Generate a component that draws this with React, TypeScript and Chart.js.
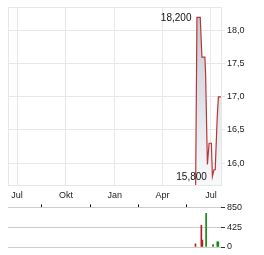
import React, { useEffect, useRef } from "react";
import { Chart, registerables } from "chart.js";

Chart.register(...registerables);

// x values: days since 1 Jul 2024
const xMin = -17;
const xMax = 384;
const monthTickDays = [0, 92, 184, 274, 365];
const monthTickLabels = ["Jul", "Okt", "Jan", "Apr", "Jul"];

const priceDays = [336.2, 338.7, 344.9, 348.1, 353.7, 355.0, 358.4, 361.6, 365.9, 367.8, 370.7, 373.1, 376.9, 379.1, 383.8];
const priceValues = [15.6, 18.2, 18.2, 17.6, 17.6, 17.35, 15.98, 16.3, 16.3, 15.8, 15.9, 15.9, 16.7, 17.0, 17.0];
const priceTicks = [16.0, 16.5, 17.0, 17.5, 18.0];
const priceMin = 15.67;
const priceMax = 18.35;

// annotated points (index into price arrays)
const annotationIndices = [1, 9];

const volDays = [336, 347, 349, 356, 369, 377, 379];
const volValues = [70, 464, 150, 723, 50, 110, 110];
const volUp = [false, false, false, true, true, true, true];
const volTicks = [0, 425, 850];

const FONT = "'Liberation Sans', Arial, sans-serif";
const fmt = (v: number, d: number) => v.toFixed(d).replace(".", ",");

export default function App() {
  const priceRef = useRef<HTMLCanvasElement>(null);
  const volRef = useRef<HTMLCanvasElement>(null);

  useEffect(() => {
    const frame = {
      id: "frame",
      beforeDatasetsDraw(chart: any) {
        const a = chart.chartArea;
        const c = chart.ctx;
        c.save();
        c.strokeStyle = "#e6e6e6";
        c.lineWidth = 1;
        c.strokeRect(Math.round(a.left) + 0.5, Math.round(a.top) + 0.5, Math.round(a.right - a.left), Math.round(a.bottom - a.top));
        c.restore();
      },
    };
    const annotate = {
      id: "annotate",
      afterDatasetsDraw(chart: any) {
        const c = chart.ctx;
        const xs = chart.scales.x;
        const ys = chart.scales.y;
        c.save();
        c.font = `10px ${FONT}`;
        c.fillStyle = "#111";
        c.textAlign = "right";
        c.textBaseline = "middle";
        annotationIndices.forEach((i) => {
          const x = xs.getPixelForValue(priceDays[i]);
          const y = ys.getPixelForValue(priceValues[i]);
          c.fillText(fmt(priceValues[i], 3), x - 5.5, y + 0.5);
        });
        c.restore();
      },
    };

    const priceChart = new Chart(priceRef.current as HTMLCanvasElement, {
      type: "line",
      data: {
        datasets: [
          {
            data: priceDays.map((d, i) => ({ x: d, y: priceValues[i] })),
            borderColor: "#bb3535",
            borderWidth: 1.2,
            pointRadius: 0,
            tension: 0,
            fill: "start",
            backgroundColor: (ctx: any) => {
              const chart = ctx.chart;
              const a = chart.chartArea;
              if (!a) return "#d5dbe3";
              const top = chart.scales.y.getPixelForValue(18.2);
              const g = chart.ctx.createLinearGradient(0, top, 0, a.bottom);
              g.addColorStop(0, "#c4ccd7");
              g.addColorStop(1, "#f8f9fb");
              return g;
            },
          },
        ],
      },
      options: {
        responsive: false,
        maintainAspectRatio: false,
        animation: false,
        layout: { padding: { left: 8, top: 7, right: 0, bottom: 0 } },
        plugins: { legend: { display: false }, tooltip: { enabled: false } },
        scales: {
          x: {
            type: "linear",
            min: xMin,
            max: xMax,
            afterBuildTicks: (s: any) => {
              s.ticks = monthTickDays.map((v) => ({ value: v }));
            },
            ticks: {
              callback: (_v: any, i: number) => monthTickLabels[i],
              font: { size: 9, family: FONT },
              color: "#222",
              padding: 5,
              maxRotation: 0,
              autoSkip: false,
            },
            grid: { color: "#e8e8e8", drawTicks: false },
            border: { display: false },
            afterFit: (s: any) => {
              s.height = 15;
            },
          },
          y: {
            position: "right",
            min: priceMin,
            max: priceMax,
            afterBuildTicks: (s: any) => {
              s.ticks = priceTicks.map((v) => ({ value: v }));
            },
            ticks: {
              callback: (v: any) => fmt(Number(v), 1),
              font: { size: 9, family: FONT },
              color: "#222",
              padding: 2,
            },
            grid: { color: "#e8e8e8", tickLength: 4 },
            border: { display: false },
            afterFit: (s: any) => {
              s.width = 43;
            },
          },
        },
      },
      plugins: [frame, annotate],
    } as any);

    const volChart = new Chart(volRef.current as HTMLCanvasElement, {
      type: "bar",
      data: {
        datasets: [
          {
            data: volDays.map((d, i) => ({ x: d, y: volValues[i] })),
            backgroundColor: volUp.map((u) => (u ? "#138a13" : "#b22222")),
            barThickness: 1,
          },
        ],
      },
      options: {
        responsive: false,
        maintainAspectRatio: false,
        animation: false,
        layout: { padding: { left: 8, top: 0, right: 0, bottom: 8 } },
        plugins: { legend: { display: false }, tooltip: { enabled: false } },
        scales: {
          x: {
            type: "linear",
            position: "top",
            min: xMin,
            max: xMax,
            offset: false,
            afterBuildTicks: (s: any) => {
              s.ticks = monthTickDays.map((v) => ({ value: v }));
            },
            ticks: { display: false },
            grid: { drawOnChartArea: false, drawTicks: true, tickLength: 3, tickColor: "#000", color: "#000" },
            border: { display: false },
            afterFit: (s: any) => {
              s.height = 7;
            },
          },
          y: {
            position: "right",
            min: 0,
            max: 850,
            afterBuildTicks: (s: any) => {
              s.ticks = volTicks.map((v) => ({ value: v }));
            },
            ticks: {
              callback: (v: any) => String(v),
              font: { size: 9, family: FONT },
              color: "#222",
              padding: 2,
            },
            grid: { color: "#cccccc", tickColor: "#333", tickLength: 4 },
            border: { display: false },
            afterFit: (s: any) => {
              s.width = 43;
            },
          },
        },
      },
    } as any);

    return () => {
      priceChart.destroy();
      volChart.destroy();
    };
  }, []);

  return (
    <div style={{ position: "absolute", left: 0, top: 0, width: 264, height: 255, background: "#fff" }}>
      <canvas ref={priceRef} width={264} height={200} style={{ position: "absolute", left: 0, top: 0, width: 264, height: 200 }} />
      <canvas ref={volRef} width={264} height={55} style={{ position: "absolute", left: 0, top: 200, width: 264, height: 55 }} />
    </div>
  );
}
